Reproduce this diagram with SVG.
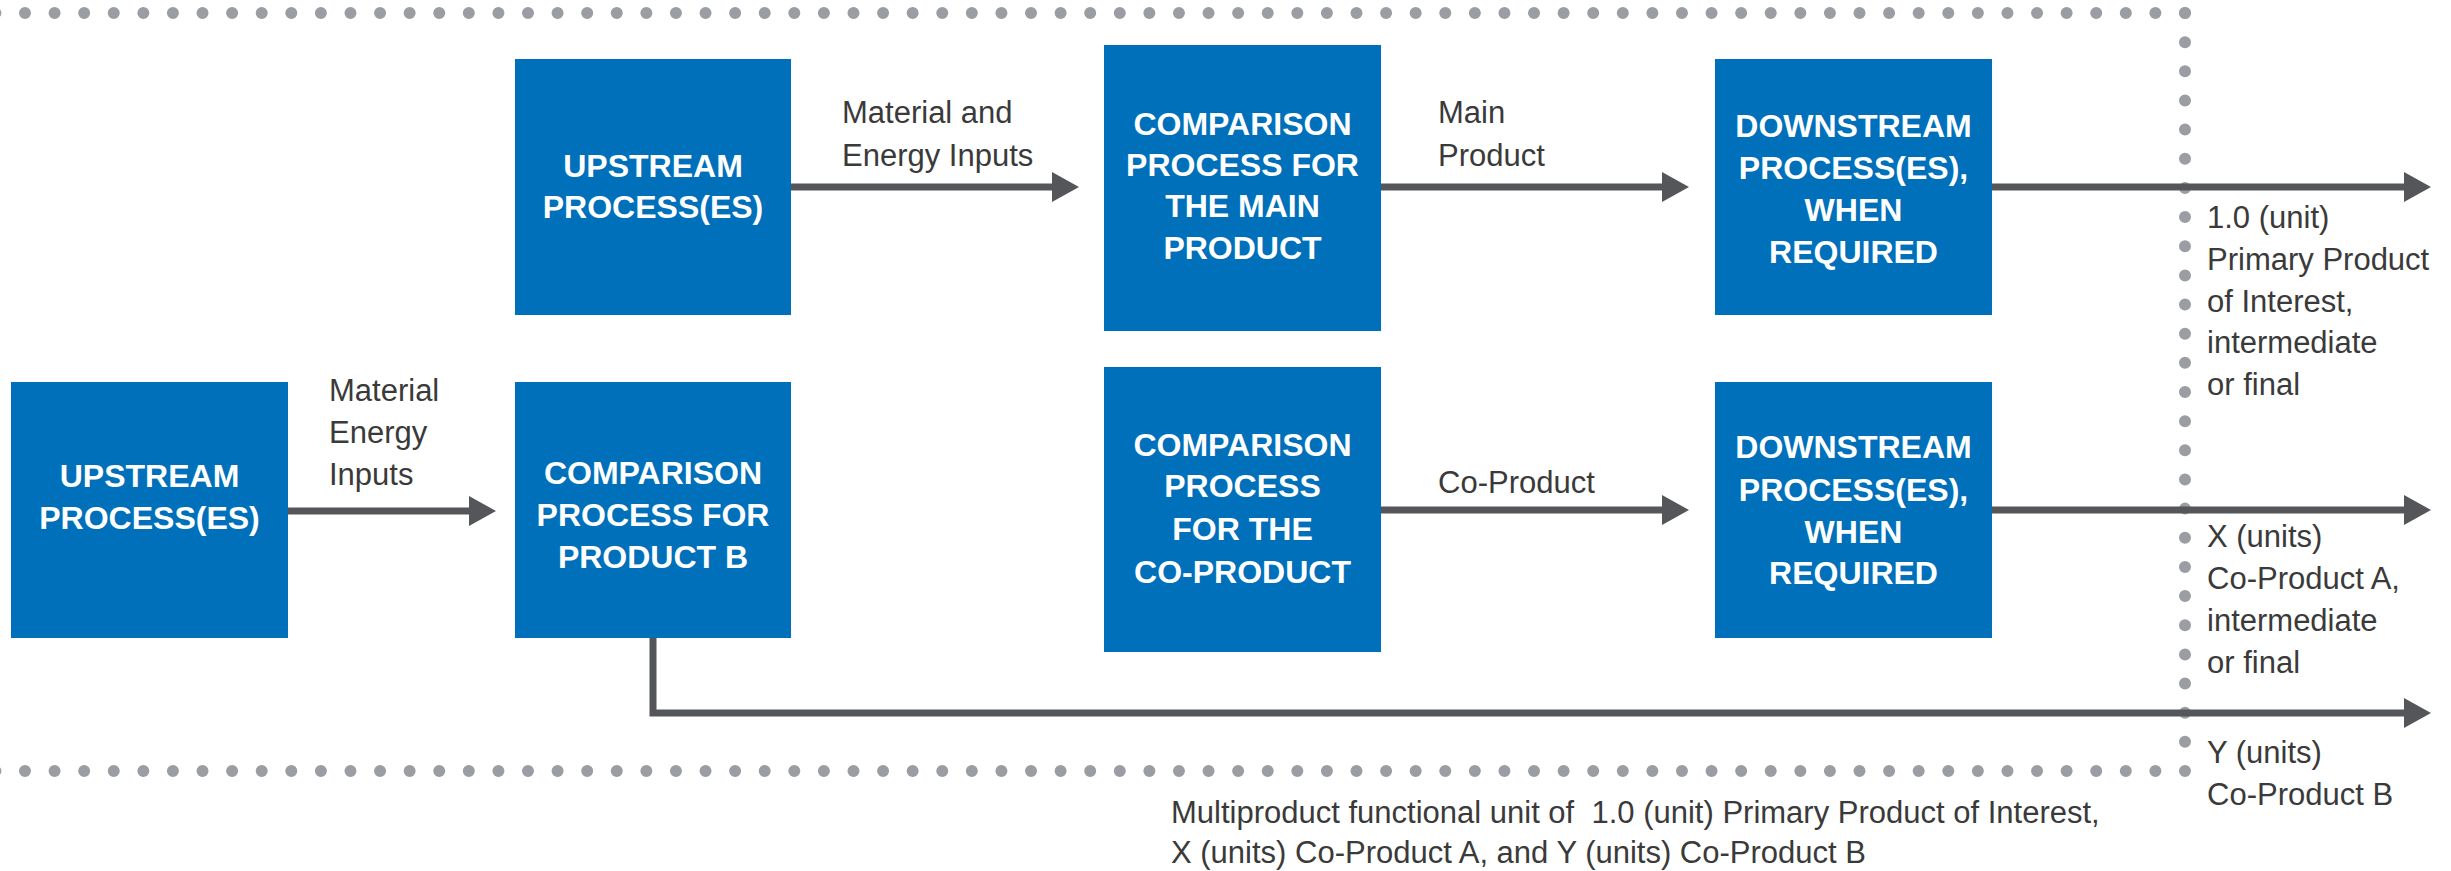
<svg xmlns="http://www.w3.org/2000/svg" width="2451" height="871" viewBox="0 0 2451 871">
<style>
.box{fill:#0070BA}
.bt{font-family:"Liberation Sans",Arial,sans-serif;font-weight:bold;font-size:32px;fill:#FFFFFF;text-anchor:middle}
.lb{font-family:"Liberation Sans",Arial,sans-serif;font-size:31px;fill:#3A3A3A}
.conn{fill:none;stroke:#55565A;stroke-width:7}
.dot{fill:none;stroke:#9A9DA2;stroke-width:12;stroke-linecap:round}
</style>
<defs>
<marker id="ah" markerUnits="userSpaceOnUse" markerWidth="28" markerHeight="30" refX="17" refY="15" orient="auto">
<path d="M0,0 L27,15 L0,30 Z" fill="#55565A"/>
</marker>
</defs>
<g id="boundary">
<line class="dot" x1="-4.6" y1="13" x2="2185" y2="13" stroke-dasharray="0 29.589"/>
<line class="dot" x1="-4.6" y1="771" x2="2185" y2="771" stroke-dasharray="0 29.589"/>
<line class="dot" x1="2185" y1="13" x2="2185" y2="771" stroke-dasharray="0 29.154"/>
</g>
<g id="connectors">
<line class="conn" x1="791" y1="187" x2="1069" y2="187" marker-end="url(#ah)"/>
<line class="conn" x1="1381" y1="187" x2="1679" y2="187" marker-end="url(#ah)"/>
<line class="conn" x1="1992" y1="187" x2="2421" y2="187" marker-end="url(#ah)"/>
<line class="conn" x1="288" y1="511" x2="486" y2="511" marker-end="url(#ah)"/>
<line class="conn" x1="1381" y1="510" x2="1679" y2="510" marker-end="url(#ah)"/>
<line class="conn" x1="1992" y1="510" x2="2421" y2="510" marker-end="url(#ah)"/>
<path class="conn" d="M653,638 V713 H2421" marker-end="url(#ah)"/>
</g>
<g id="labels">
<text class="lb" x="842" y="123">Material and</text>
<text class="lb" x="842" y="166">Energy Inputs</text>
<text class="lb" x="1438" y="123">Main</text>
<text class="lb" x="1438" y="166">Product</text>
<text class="lb" x="329" y="401">Material</text>
<text class="lb" x="329" y="443">Energy</text>
<text class="lb" x="329" y="485">Inputs</text>
<text class="lb" x="1438" y="493">Co-Product</text>
<text class="lb" x="2207" y="228">1.0 (unit)</text>
<text class="lb" x="2207" y="270">Primary Product</text>
<text class="lb" x="2207" y="312">of Interest,</text>
<text class="lb" x="2207" y="353">intermediate</text>
<text class="lb" x="2207" y="395">or final</text>
<text class="lb" x="2207" y="547">X (units)</text>
<text class="lb" x="2207" y="589">Co-Product A,</text>
<text class="lb" x="2207" y="631">intermediate</text>
<text class="lb" x="2207" y="673">or final</text>
<text class="lb" x="2207" y="763">Y (units)</text>
<text class="lb" x="2207" y="805">Co-Product B</text>
<text class="lb" x="1171" y="823" xml:space="preserve">Multiproduct functional unit of  1.0 (unit) Primary Product of Interest,</text>
<text class="lb" x="1171" y="863">X (units) Co-Product A, and Y (units) Co-Product B</text>
</g>
<g id="upstream-top">
<rect class="box" x="515" y="59" width="276" height="256"/>
<text class="bt" x="653" y="177">UPSTREAM</text>
<text class="bt" x="653" y="218">PROCESS(ES)</text>
</g>
<g id="comparison-main">
<rect class="box" x="1104" y="45" width="277" height="286"/>
<text class="bt" x="1242.5" y="135">COMPARISON</text>
<text class="bt" x="1242.5" y="176">PROCESS FOR</text>
<text class="bt" x="1242.5" y="217">THE MAIN</text>
<text class="bt" x="1242.5" y="259">PRODUCT</text>
</g>
<g id="downstream-top">
<rect class="box" x="1715" y="59" width="277" height="256"/>
<text class="bt" x="1853.5" y="137">DOWNSTREAM</text>
<text class="bt" x="1853.5" y="179">PROCESS(ES),</text>
<text class="bt" x="1853.5" y="221">WHEN</text>
<text class="bt" x="1853.5" y="263">REQUIRED</text>
</g>
<g id="upstream-bottom">
<rect class="box" x="11" y="382" width="277" height="256"/>
<text class="bt" x="149.5" y="487">UPSTREAM</text>
<text class="bt" x="149.5" y="529">PROCESS(ES)</text>
</g>
<g id="comparison-b">
<rect class="box" x="515" y="382" width="276" height="256"/>
<text class="bt" x="653" y="484">COMPARISON</text>
<text class="bt" x="653" y="526">PROCESS FOR</text>
<text class="bt" x="653" y="568">PRODUCT B</text>
</g>
<g id="comparison-co">
<rect class="box" x="1104" y="367" width="277" height="285"/>
<text class="bt" x="1242.5" y="456">COMPARISON</text>
<text class="bt" x="1242.5" y="497">PROCESS</text>
<text class="bt" x="1242.5" y="540">FOR THE</text>
<text class="bt" x="1242.5" y="583">CO-PRODUCT</text>
</g>
<g id="downstream-bottom">
<rect class="box" x="1715" y="382" width="277" height="256"/>
<text class="bt" x="1853.5" y="458">DOWNSTREAM</text>
<text class="bt" x="1853.5" y="501">PROCESS(ES),</text>
<text class="bt" x="1853.5" y="543">WHEN</text>
<text class="bt" x="1853.5" y="584">REQUIRED</text>
</g>
</svg>
